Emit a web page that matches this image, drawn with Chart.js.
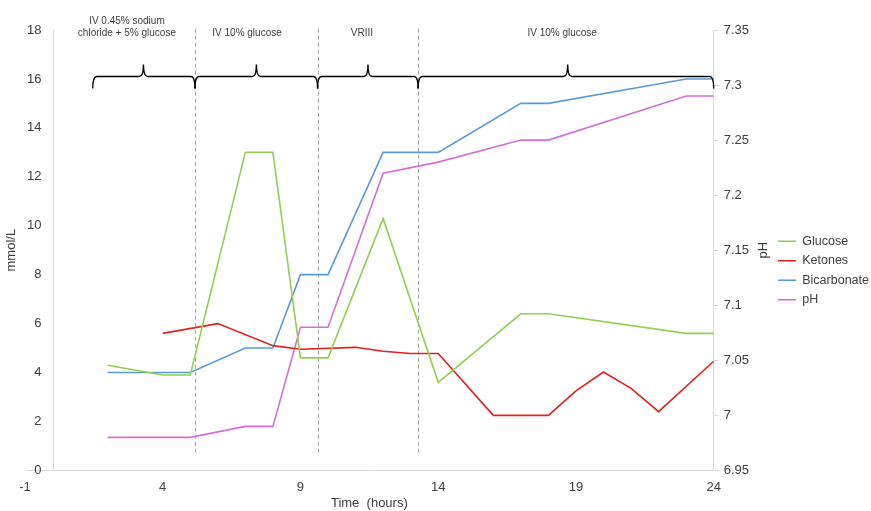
<!DOCTYPE html>
<html>
<head>
<meta charset="utf-8">
<title>DKA treatment timeline</title>
<script src="https://cdn.jsdelivr.net/npm/chart.js@4/dist/chart.umd.min.js"></script>
<style>
    body { margin: 0; background: #fff; }
    #wrap { width: 871px; height: 511px; }
</style>
</head>
<body>
<div id="wrap"><canvas id="trendChart" width="871" height="511"></canvas></div>
<script>
// Time in hours for each measurement
const glucoseTimes = [2, 4, 5, 7, 8, 9, 10, 12, 14, 17, 18, 23, 24];
const glucoseValues = [4.3, 3.9, 3.9, 13, 13, 4.6, 4.6, 10.3, 3.6, 6.4, 6.4, 5.6, 5.6];

const ketoneTimes = [4, 6, 8, 9, 11, 12, 13, 14, 16, 18, 19, 20, 21, 22, 24];
const ketoneValues = [5.6, 6.0, 5.1, 4.95, 5.03, 4.87, 4.78, 4.78, 2.25, 2.25, 3.25, 4.02, 3.35, 2.4, 4.46];

const bicarbTimes = [2, 5, 7, 8, 9, 10, 12, 14, 17, 18, 23, 24];
const bicarbValues = [4, 4, 5, 5, 8, 8, 13, 13, 15, 15, 16, 16];

const phTimes = [2, 5, 7, 8, 9, 10, 12, 14, 17, 18, 23, 24];
const phValues = [6.98, 6.98, 6.99, 6.99, 7.08, 7.08, 7.22, 7.23, 7.25, 7.25, 7.29, 7.29];

// Treatment phases (hours)
const phaseChanges = [5.17, 9.62, 13.27];
const phaseStarts = [1.46, 5.17, 9.62, 13.27];
const phaseEnds = [5.17, 9.62, 13.27, 24];
const phasePeaks = [3.3, 7.4, 11.45, 18.7];
const phaseLabels = [["IV 0.45% sodium", "chloride + 5% glucose"], ["IV 10% glucose"], ["VRIII"], ["IV 10% glucose"]];
const phaseLabelCentres = [2.7, 7.06, 11.23, 18.5];

const phAxisTitle = "pH";

const toPoints = (xs, ys) => xs.map((x, i) => ({ x, y: ys[i] }));

const axisFont = { family: "'Liberation Sans', Arial, sans-serif", size: 13 };
const textColor = "#404040";
const axisGrey = "#d9d9d9";

// draws the y axis line at t=0, phase dividers and the braces on top
const phasePlugin = {
    id: "phases",
    beforeDatasetsDraw(chart) {
        const { ctx, chartArea, scales: { x, y } } = chart;
        ctx.save();
        ctx.strokeStyle = axisGrey;
        ctx.lineWidth = 1;
        const x0 = Math.round(x.getPixelForValue(0)) + 0.5;
        ctx.beginPath();
        ctx.moveTo(x0, chartArea.top);
        ctx.lineTo(x0, chartArea.bottom);
        ctx.stroke();

        ctx.strokeStyle = "#a6a6a6";
        ctx.setLineDash([4, 3]);
        phaseChanges.forEach((t) => {
            const px = Math.round(x.getPixelForValue(t)) + 0.5;
            ctx.beginPath();
            ctx.moveTo(px, y.getPixelForValue(18.05));
            ctx.lineTo(px, y.getPixelForValue(0.75));
            ctx.stroke();
        });
        ctx.restore();
    },
    afterDatasetsDraw(chart) {
        const { ctx, scales: { x, y } } = chart;
        ctx.save();
        ctx.strokeStyle = "#000";
        ctx.lineWidth = 1.4;
        const yb = y.getPixelForValue(16.1);
        const r = 4, d = 12, h = 12;
        phaseStarts.forEach((s, i) => {
            const xs = x.getPixelForValue(s);
            const xe = x.getPixelForValue(phaseEnds[i]);
            const xp = x.getPixelForValue(phasePeaks[i]);
            ctx.beginPath();
            ctx.moveTo(xs, yb + d);
            ctx.quadraticCurveTo(xs, yb, xs + r, yb);
            ctx.lineTo(xp - r, yb);
            ctx.quadraticCurveTo(xp, yb, xp, yb - h);
            ctx.quadraticCurveTo(xp, yb, xp + r, yb);
            ctx.lineTo(xe - r, yb);
            ctx.quadraticCurveTo(xe, yb, xe, yb + d);
            ctx.stroke();
        });

        ctx.fillStyle = textColor;
        ctx.font = "10px 'Liberation Sans', Arial, sans-serif";
        ctx.textAlign = "center";
        ctx.textBaseline = "middle";
        const yl = y.getPixelForValue(17.87);
        phaseLabels.forEach((lines, i) => {
            const px = x.getPixelForValue(phaseLabelCentres[i]);
            lines.forEach((line, j) => {
                ctx.fillText(line, px, yl - (lines.length - 1 - j) * 12);
            });
        });
        ctx.restore();
    },
    afterDraw(chart) {
        // secondary axis title reads bottom-to-top like the original
        const { ctx, scales: { y1 } } = chart;
        ctx.save();
        ctx.translate(y1.right - 7.8, (y1.top + y1.bottom) / 2);
        ctx.rotate(-Math.PI / 2);
        ctx.fillStyle = textColor;
        ctx.font = "13px 'Liberation Sans', Arial, sans-serif";
        ctx.textAlign = "center";
        ctx.textBaseline = "middle";
        ctx.fillText(phAxisTitle, 0, 0);
        ctx.restore();
    }
};

const ctx = document.getElementById("trendChart");

new Chart(ctx, {
    type: "line",
    data: {
        datasets: [
            { label: "Glucose", data: toPoints(glucoseTimes, glucoseValues), borderColor: "#92d050", yAxisID: "y" },
            { label: "Ketones", data: toPoints(ketoneTimes, ketoneValues), borderColor: "#e3201e", yAxisID: "y" },
            { label: "Bicarbonate", data: toPoints(bicarbTimes, bicarbValues), borderColor: "#5b9bd5", yAxisID: "y" },
            { label: "pH", data: toPoints(phTimes, phValues), borderColor: "#d36fd6", yAxisID: "y1" },
        ],
    },
    options: {
        responsive: false,
        animation: false,
        datasets: {
            line: { borderWidth: 1.6, pointRadius: 0, tension: 0, fill: false },
        },
        layout: { padding: { top: 30, left: 0, right: 1, bottom: 0 } },
        scales: {
            x: {
                type: "linear",
                min: -1,
                max: 24,
                ticks: { stepSize: 5, font: axisFont, color: textColor, padding: 9.2 },
                grid: { display: false, drawTicks: false },
                border: { color: axisGrey },
                title: { display: true, text: "Time  (hours)", font: axisFont, color: textColor, padding: { top: -9, bottom: 0 } },
            },
            y: {
                position: "left",
                min: 0,
                max: 18,
                ticks: { stepSize: 2, font: axisFont, color: textColor, mirror: true, crossAlign: "far", padding: 2 },
                grid: { display: false, drawTicks: false },
                border: { display: false },
                title: { display: true, text: "mmol/L", font: axisFont, color: textColor, padding: { top: 4, bottom: 1.4 } },
            },
            y1: {
                position: "right",
                min: 6.95,
                max: 7.35,
                ticks: {
                    stepSize: 0.05, font: axisFont, color: textColor, padding: 5,
                    callback: (v) => String(+v.toFixed(2)),
                },
                grid: { drawOnChartArea: false, drawTicks: true, tickLength: 5, color: axisGrey },
                border: { color: axisGrey },
                // space is kept here, the text itself is drawn by the plugin
                title: { display: true, text: phAxisTitle, font: axisFont, color: "rgba(0,0,0,0)", padding: { top: 0, bottom: 1.4 } },
            },
        },
        plugins: {
            legend: {
                position: "right",
                align: "center",
                maxWidth: 99,
                labels: {
                    usePointStyle: true,
                    pointStyle: "line",
                    pointStyleWidth: 18,
                    padding: 7,
                    color: textColor,
                    font: { family: "'Liberation Sans', Arial, sans-serif", size: 12.5 },
                },
            },
            tooltip: { enabled: false },
        },
    },
    plugins: [phasePlugin],
});
</script>
</body>
</html>
